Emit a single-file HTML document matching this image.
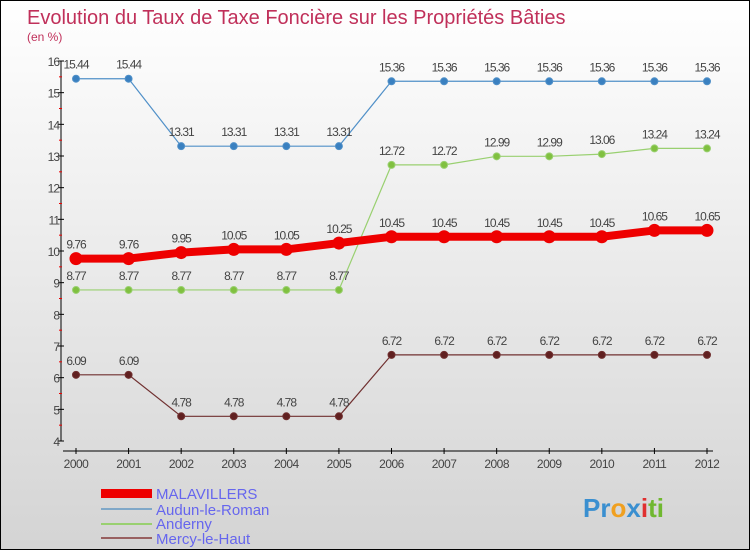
<!DOCTYPE html>
<html><head><meta charset="utf-8"><style>
body{margin:0}
#c{width:750px;height:550px;position:relative;box-sizing:border-box;border:1px solid #000;background:linear-gradient(#ffffff,#d4d4d4);font-family:"Liberation Sans",sans-serif;overflow:hidden}
</style></head><body>
<div id="c">
<svg width="750" height="550" id="svg">
<text x="26" y="23" font-size="20" fill="#c0305a">Evolution du Taux de Taxe Foncière sur les Propriétés Bâties</text>
<text x="26" y="40" font-size="12" fill="#c0305a">(en %)</text>
<g id="axes"></g><g id="series"></g>
<g>
<rect x="100" y="488" width="51" height="9" fill="#ee0000"/>
<text x="155" y="498" font-size="15" fill="#6666ee">MALAVILLERS</text>
<rect x="100" y="507" width="51" height="2" fill="#80a8c8"/>
<text x="155" y="514" font-size="15" fill="#6666ee">Audun-le-Roman</text>
<rect x="100" y="522" width="51" height="2" fill="#99d070"/>
<text x="155" y="528" font-size="15" fill="#6666ee">Anderny</text>
<rect x="100" y="536" width="51" height="2" fill="#986060"/>
<text x="155" y="543" font-size="15" fill="#6666ee">Mercy-le-Haut</text>
</g>
<text x="582" y="516" font-size="26" font-weight="bold"><tspan fill="#3a8fd0">Pr</tspan><tspan fill="#f0a020">o</tspan><tspan fill="#3a8fd0">x</tspan><tspan fill="#e03030">i</tspan><tspan fill="#70b830">ti</tspan></text>
</svg></div>
<script>
const years=[2000,2001,2002,2003,2004,2005,2006,2007,2008,2009,2010,2011,2012];
const yTicks=[4,5,6,7,8,9,10,11,12,13,14,15,16];
const malavillers=[9.76,9.76,9.95,10.05,10.05,10.25,10.45,10.45,10.45,10.45,10.45,10.65,10.65];
const audun=[15.44,15.44,13.31,13.31,13.31,13.31,15.36,15.36,15.36,15.36,15.36,15.36,15.36];
const anderny=[8.77,8.77,8.77,8.77,8.77,8.77,12.72,12.72,12.99,12.99,13.06,13.24,13.24];
const mercy=[6.09,6.09,4.78,4.78,4.78,4.78,6.72,6.72,6.72,6.72,6.72,6.72,6.72];
const NS="http://www.w3.org/2000/svg";
const X=i=>75+i*(706-75)/(years.length-1);
const Y=v=>440-(v-4)*(380/12);
function mk(t,a,p){const e=document.createElementNS(NS,t);for(const k in a)e.setAttribute(k,a[k]);p.appendChild(e);return e;}
const ax=document.getElementById('axes'),se=document.getElementById('series');
let l=mk('line',{x1:60,y1:60,x2:60,y2:440,stroke:'#000'},ax);

l=mk('line',{x1:62,y1:450,x2:712,y2:450,stroke:'#000'},ax);

yTicks.forEach(v=>{mk('line',{x1:57,y1:Y(v),x2:63,y2:Y(v),stroke:'#000'},ax);
 if(v<16)mk('line',{x1:58,y1:Y(v+0.5),x2:61,y2:Y(v+0.5),stroke:'#e00'},ax);
 const t=mk('text',{x:58,y:Y(v)+5,'font-size':12,fill:'#444','text-anchor':'end','letter-spacing':'-1'},ax);t.textContent=v;
 });
years.forEach((y,i)=>{mk('line',{x1:X(i),y1:447,x2:X(i),y2:453,stroke:'#000'},ax);
 const t=mk('text',{x:X(i),y:467,'font-size':12,fill:'#444','text-anchor':'middle','letter-spacing':'-0.5'},ax);t.textContent=y;
 });
function draw(arr,name,color,w,r,fill,lblColor){
 const g=mk('g',{},se);
 mk('polyline',{points:arr.map((v,i)=>X(i)+','+Y(v)).join(' '),fill:'none',stroke:color,'stroke-width':w,'stroke-linejoin':'round'},g);
 arr.forEach((v,i)=>{const c=mk('circle',{cx:X(i),cy:Y(v),r:r,fill:fill,stroke:color,'stroke-width':1},g);
  
  const t=mk('text',{x:X(i),y:Y(v)-10,'font-size':12,fill:'#444','text-anchor':'middle','letter-spacing':'-1'},g);t.textContent=v;
  });
}
draw(audun,'audun','#5090c8',1.2,3.5,'#3a80c0');
draw(anderny,'anderny','#99d070',1.2,3.5,'#80c040');
draw(mercy,'mercy','#703030',1.2,3.5,'#602020');
draw(malavillers,'malavillers','#ee0000',8,6,'#ee0000');
</script>
</body></html>
